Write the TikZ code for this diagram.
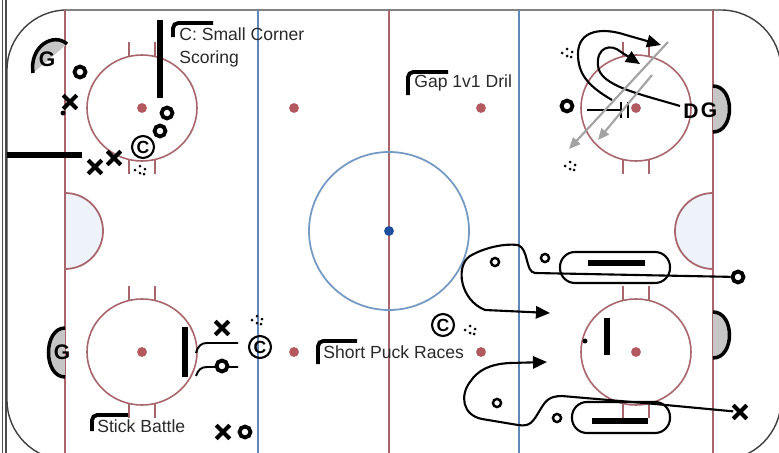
\documentclass[tikz,border=0pt]{standalone}
\usepackage{fontspec}
\setmainfont{Liberation Sans}
\usetikzlibrary{arrows.meta, shapes.misc}
\definecolor{rinkred}{HTML}{A8666C}
\definecolor{dotred}{HTML}{B35A61}
\definecolor{rinkblue}{HTML}{5F89B9}
\definecolor{ringblue}{HTML}{7499C3}
\definecolor{centerdot}{HTML}{1E4F9E}
\definecolor{creasefill}{HTML}{EEF3FA}
\definecolor{netgray}{HTML}{C6C6C6}
\definecolor{passgray}{HTML}{A3A3A3}
\definecolor{labelgray}{HTML}{2A2A2A}

\begin{document}
\begin{tikzpicture}[
    x=0.02cm, y=-0.02cm,
    >={Triangle[length=8pt, width=7pt]},
    boards/.style={draw=black!75, line width=0.8pt},
    redline/.style={draw=rinkred, line width=1.1pt},
    blueline/.style={draw=rinkblue, line width=1.7pt},
    ring/.style={draw=rinkred, line width=0.9pt},
    spot/.style={circle, fill=dotred, inner sep=0pt, minimum size=5.6pt},
    crease/.style={draw=rinkred, line width=1pt, fill=creasefill},
    net/.style={draw=black, line width=2pt, fill=netgray},
    player/.style={circle, draw, line width=2.2pt, inner sep=0pt, minimum size=6.2pt},
    small/.style={circle, draw, line width=1.4pt, inner sep=0pt, minimum size=4.6pt},
    opp/.style={cross out, draw, line width=2.3pt, inner sep=0pt, minimum size=5.4pt},
    coach/.style={circle, draw, line width=1.2pt, inner sep=0pt, minimum size=12.5pt,
      font=\fontsize{10}{10}\selectfont\bfseries},
    goalie/.style={font=\fontsize{12}{12}\selectfont\bfseries, inner sep=0pt},
    puck/.style={circle, fill, inner sep=0pt, minimum size=2.8pt},
    bar/.style={line width=3.7pt},
    route/.style={line width=1.2pt},
    skate/.style={route, ->},
    pass/.style={draw=passgray, line width=1.2pt, -{Triangle[length=6.5pt, width=5.5pt]}},
    tag/.style={line width=2.2pt, rounded corners=3pt},
    drill/.style={font=\fontsize{10}{13.5}\selectfont, text=labelgray, inner sep=0pt, align=left},
    pucks/.pic={\foreach \a/\b in {-5/0, 0/-4, 0/3, 5/-1, 4/4} {\fill (\a,\b) circle[radius=1.5];}},
  ]

  \useasboundingbox (0,0) rectangle (779,453);
  \clip (0,0) rectangle (779,453);
  \fill[white] (0,0) rectangle (779,453);

  % rink
  \draw[black!70, line width=0.6pt] (2.5,0) -- (2.5,453);
  \draw[black!70, line width=0.6pt] (6,0) -- (6,453);
  \draw[boards, rounded corners=1.2cm] (7,10) rectangle (781,460);

  \filldraw[crease] (65,193) arc[start angle=-90, end angle=90, radius=38];
  \filldraw[crease] (713,193) arc[start angle=-90, end angle=-270, radius=38];

  \draw[redline] (65,10) -- (65,453);
  \draw[redline] (713,10) -- (713,453);
  \draw[redline] (389,10) -- (389,453);
  \draw[blueline] (258,10) -- (258,453);
  \draw[blueline] (519,10) -- (519,453);

  \foreach \cx/\cy in {142/108, 636/108, 142/352, 636/352} {
    \draw[ring] (\cx,\cy) ellipse[x radius=55, y radius=53];
    \foreach \hx in {-13, 13} {
      \draw[ring] (\cx+\hx,\cy-66) -- (\cx+\hx,\cy-51);
      \draw[ring] (\cx+\hx,\cy+51) -- (\cx+\hx,\cy+66);
    }
    \node[spot] (fo-\cx-\cy) at (\cx,\cy) {};
  }
  \foreach \nx/\ny in {294/108, 481/108, 294/352, 481/352}
    \node[spot] (ns-\nx-\ny) at (\nx,\ny) {};

  \draw[draw=ringblue, line width=1pt] (389,231) ellipse[x radius=80, y radius=79];
  \node[circle, fill=centerdot, inner sep=0pt, minimum size=5.6pt] (center) at (389,231) {};

  % nets
  \filldraw[net] (33,73) .. controls (29,46) and (54,32) .. (67,44);
  \node[goalie] (gTL) at (47,59) {G};
  \filldraw[net] (713,86) .. controls (735,86) and (735,132) .. (713,132);
  \node[goalie] (dTR) at (691,111) {D};
  \node[goalie] (gTR) at (709,110) {G};
  \filldraw[net] (65,328) .. controls (43,328) and (43,377) .. (65,377);
  \node[goalie] (gBL) at (62,352) {G};
  \filldraw[net] (713,312) .. controls (735,312) and (735,358) .. (713,358);

  % C: Small Corner Scoring
  \draw[bar] (160,20) -- (160,98);
  \draw[bar] (7,155) -- (82,155);
  \node[player] (oA) at (80,72) {};
  \node[opp] (xA) at (70,102) {};
  \node[puck] (pA) at (63,113) {};
  \node[player] (oB) at (167,113) {};
  \node[player] (oC) at (160,131) {};
  \node[coach] (cA) at (143,147) {C};
  \node[opp] (xB) at (95,167) {};
  \node[opp] (xC) at (114,158) {};
  \pic (pkA) at (140,170) {pucks};
  \draw[tag] (173,37) |- (213,23);
  \node[drill, anchor=north west] (lblA) at (179,27) {C: Small Corner\\Scoring};

  % Gap 1v1 Dril
  \pic (pkB) at (567,53) {pucks};
  \pic (pkC) at (570,166) {pucks};
  \node[player] (oD) at (567,106) {};
  \coordinate (passD) at (587,110);
  \coordinate (stopD) at (621,110);
  \draw[line width=1pt] (passD) -- (stopD);
  \draw[line width=1.1pt] (621,102) -- (621,118) (628,102) -- (628,118);
  \draw[skate] (612,100) .. controls (588,86) and (578,74) .. (578,54)
    .. controls (578,30) and (602,27) .. (626,35) -- (661,45);
  \draw[skate] (680,106) .. controls (640,94) and (600,86) .. (598,66)
    .. controls (596,47) and (611,43) .. (621,52) -- (640,64);
  \draw[pass] (668,42) -- (569,149);
  \draw[pass] (652,75) -- (598,140);
  \draw[tag] (408,95) |- (448,72);
  \node[drill, anchor=base west] (lblB) at (414,88) {Gap 1v1 Dril};

  % Stick Battle
  \draw[bar] (185,327) -- (185,377);
  \node[opp] (xD) at (222,328) {};
  \draw[line width=1.1pt] (196,353) .. controls (198,346) and (201,343) .. (207,343) -- (238,343);
  \draw[line width=1.1pt] (196,376) .. controls (198,370) and (201,367) .. (207,367) -- (238,367);
  \node[player, fill=white] (oE) at (222,366) {};
  \node[coach] (cB) at (260,347) {C};
  \pic (pkD) at (257,320) {pucks};
  \node[opp] (xE) at (223,432) {};
  \node[player] (oF) at (245,432) {};
  \draw[tag] (92,431) |- (128,415);
  \node[drill, anchor=base west] (lblC) at (97,432) {Stick Battle};

  % Short Puck Races
  \draw[tag] (318,364) |- (357,341);
  \node[drill, anchor=base west] (lblD) at (323,358) {Short Puck Races};
  \node[coach] (cC) at (443,325) {C};
  \pic (pkE) at (470,330) {pucks};

  \node[player] (oR) at (738,277) {};
  \node[opp] (xR) at (740,412) {};
  \draw[route, rounded corners=0.3cm] (560,252) rectangle (670,283);
  \draw[bar] (588,263) -- (645,263);
  \node[small] (oG) at (495,262) {};
  \node[small] (oH) at (545,258) {};
  \draw[skate] (oR) -- (535,273) .. controls (525,272) and (529,249) .. (518,245)
    .. controls (500,243) and (480,250) .. (470,256)
    .. controls (455,266) and (460,300) .. (485,310) -- (550,313);
  \draw[bar] (607,318) -- (607,355);
  \node[puck] (pB) at (585,341) {};
  \draw[skate] (xR) -- (655,404) -- (562,396) .. controls (548,396) and (545,402) .. (540,410)
    .. controls (533,422) and (530,427) .. (518,425) -- (482,419)
    .. controls (462,415) and (460,395) .. (470,382)
    .. controls (478,370) and (490,364) .. (510,363) -- (547,362);
  \draw[route, rounded corners=0.3cm] (572,402) rectangle (670,433);
  \draw[bar] (592,421) -- (648,421);
  \node[small] (oI) at (497,403) {};
  \node[small] (oJ) at (557,418) {};

\end{tikzpicture}
\end{document}
